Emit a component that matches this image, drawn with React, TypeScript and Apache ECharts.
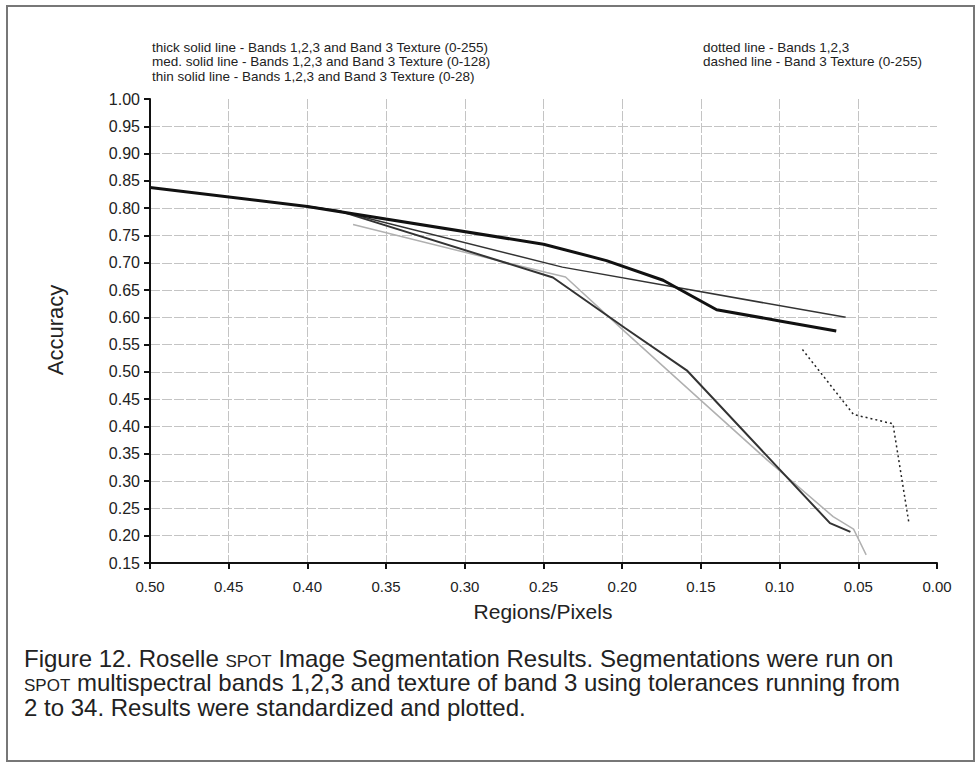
import React, { useEffect, useRef } from "react";
import * as echarts from "echarts";

// ---- data ----
const thickX = [0.5, 0.4, 0.25, 0.21, 0.174, 0.14, 0.099, 0.064];
const thickY = [0.838, 0.803, 0.734, 0.704, 0.668, 0.614, 0.593, 0.575];

const medX = [0.4, 0.38, 0.244, 0.198, 0.159, 0.068, 0.055];
const medY = [0.803, 0.795, 0.673, 0.58, 0.503, 0.223, 0.207];

const thinX = [0.4, 0.38, 0.238, 0.058];
const thinY = [0.803, 0.795, 0.692, 0.6];

const dottedX = [0.0855, 0.053, 0.028, 0.018];
const dottedY = [0.541, 0.422, 0.405, 0.226];

const dashedX = [0.371, 0.248, 0.236, 0.198, 0.15, 0.108, 0.066, 0.053, 0.045];
const dashedY = [0.77, 0.682, 0.674, 0.573, 0.448, 0.339, 0.235, 0.212, 0.165];

const legendLeft = [
  "thick solid line - Bands 1,2,3 and Band 3 Texture (0-255)",
  "med. solid line - Bands 1,2,3 and Band 3 Texture (0-128)",
  "thin solid line - Bands 1,2,3 and Band 3 Texture (0-28)",
];
const legendRight = ["dotted line - Bands 1,2,3", "dashed line - Band 3 Texture (0-255)"];

const captionLines = [
  "Figure 12. Roselle {sc|SPOT} Image Segmentation Results. Segmentations were run on",
  "{sc|SPOT} multispectral bands 1,2,3 and texture of band 3 using tolerances running from",
  "2 to 34. Results were standardized and plotted.",
];

const pairs = (xs: number[], ys: number[]) => xs.map((x, i) => [x, ys[i]]);

export default function App() {
  const ref = useRef<HTMLDivElement>(null);
  useEffect(() => {
    document.body.style.margin = "0";
    const chart = echarts.init(ref.current!, undefined, { renderer: "svg" });
    const font = "'Liberation Sans', Arial, sans-serif";
    const legendTexts: any[] = [];
    legendLeft.forEach((t, i) =>
      legendTexts.push({
        type: "text",
        left: 152,
        top: 40 + i * 14.5,
        style: { text: t, fontSize: 13.5, lineHeight: 14, fontFamily: font, fill: "#222" },
      })
    );
    legendRight.forEach((t, i) =>
      legendTexts.push({
        type: "text",
        left: 703,
        top: 40 + i * 14.5,
        style: { text: t, fontSize: 13.5, lineHeight: 14, fontFamily: font, fill: "#222" },
      })
    );
    const captionTexts = captionLines.map((t, i) => ({
      type: "text",
      x: 24,
      y: 658 + i * 24.5,
      style: {
        text: t,
        fontSize: 24,
        lineHeight: 23,
        fontFamily: font,
        fill: "#222",
        textVerticalAlign: "middle",
        rich: {
          sc: { fontSize: 17, lineHeight: 18.5, verticalAlign: "bottom", fontFamily: font, fill: "#222" },
        },
      },
    }));

    const lineSeries = (name: string, data: number[][], color: string, width: number, type: any = "solid", z = 2) => ({
      name,
      type: "line",
      data,
      showSymbol: false,
      symbol: "none",
      z,
      lineStyle: { color, width, type },
    });

    chart.setOption({
      animation: false,
      backgroundColor: "#fff",
      grid: { left: 150, right: 42, top: 99, bottom: 204, containLabel: false },
      xAxis: {
        type: "value",
        min: 0,
        max: 0.5,
        interval: 0.05,
        inverse: true,
        axisLine: { show: true, onZero: false, lineStyle: { color: "#111", width: 2 } },
        axisTick: { show: true, length: 6, lineStyle: { color: "#111", width: 2 } },
        axisLabel: {
          formatter: (v: number) => v.toFixed(2),
          fontSize: 15,
          fontFamily: font,
          color: "#222",
          margin: 16,
        },
        splitLine: { show: true, showMinLine: false, lineStyle: { color: "#c4c4c4", width: 1, type: [10, 2] } },
      },
      yAxis: {
        type: "value",
        min: 0.15,
        max: 1.0,
        interval: 0.05,
        axisLine: { show: true, onZero: false, lineStyle: { color: "#111", width: 2 } },
        axisTick: { show: true, length: 6, lineStyle: { color: "#111", width: 2 } },
        axisLabel: {
          formatter: (v: number) => v.toFixed(2),
          fontSize: 16,
          fontFamily: font,
          color: "#222",
          margin: 10,
        },
        splitLine: { show: true, showMaxLine: false, lineStyle: { color: "#c4c4c4", width: 1, type: [10, 2] } },
      },
      series: [
        lineSeries("dashed line - Band 3 Texture (0-255)", pairs(dashedX, dashedY), "#b0b0b0", 1.5, "solid", 2),
        lineSeries("dotted line - Bands 1,2,3", pairs(dottedX, dottedY), "#222", 1.5, [2, 3], 3),
        lineSeries("thin solid line - Bands 1,2,3 and Band 3 Texture (0-28)", pairs(thinX, thinY), "#333", 1.5, "solid", 3),
        lineSeries("med. solid line - Bands 1,2,3 and Band 3 Texture (0-128)", pairs(medX, medY), "#333", 2, "solid", 3),
        lineSeries("thick solid line - Bands 1,2,3 and Band 3 Texture (0-255)", pairs(thickX, thickY), "#111", 3, "solid", 4),
      ],
      graphic: [
        {
          type: "rect",
          shape: { x: 7, y: 6, width: 967, height: 755 },
          style: { fill: "none", stroke: "#777", lineWidth: 2 },
          z: 0,
        },
        ...legendTexts,
        {
          type: "text",
          x: 55,
          y: 330,
          rotation: Math.PI / 2,
          style: {
            text: "Accuracy",
            fontSize: 22,
            fontFamily: font,
            fill: "#222",
            textAlign: "center",
            textVerticalAlign: "middle",
          },
        },
        {
          type: "text",
          x: 543,
          y: 611,
          style: {
            text: "Regions/Pixels",
            fontSize: 21,
            fontFamily: font,
            fill: "#222",
            textAlign: "center",
            textVerticalAlign: "middle",
          },
        },
        ...captionTexts,
      ],
    });
    return () => chart.dispose();
  }, []);
  return <div ref={ref} style={{ width: 979, height: 767 }} />;
}
